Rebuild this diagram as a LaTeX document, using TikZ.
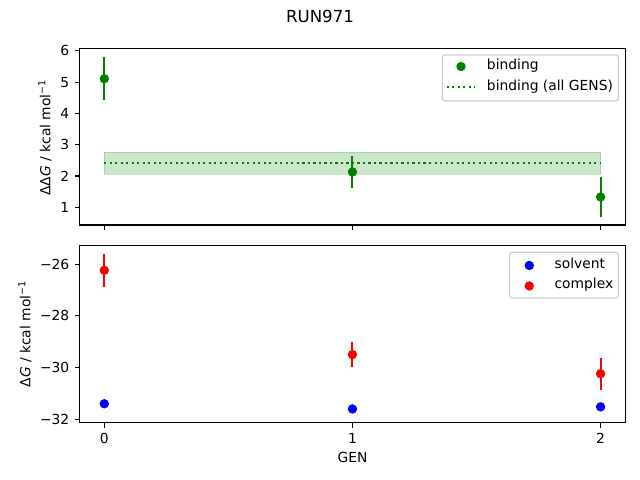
\documentclass[tikz,border=0pt]{standalone}
\usepackage{fontspec}
\setmainfont{DejaVu Sans}
\usetikzlibrary{positioning}
\definecolor{mgreen}{rgb}{0, 0.5, 0}
\definecolor{mblue}{rgb}{0, 0, 1}
\definecolor{mred}{rgb}{1, 0, 0}
\definecolor{mgray}{rgb}{0.8, 0.8, 0.8}
\tikzset{frame/.style = {line width=0.8pt},
         tick/.style = {line width=0.8pt},
         errbar/.style = {line width=1.5pt},
         dot/.style = {radius=3.4pt},
         ticklabel/.style = {font=\fontsize{10}{12}\selectfont, inner sep=0pt},
         legendbox/.style = {draw=mgray, fill=white, fill opacity=0.8,
                             rounded corners=2pt, line width=0.8pt},
         dotline/.style = {line width=1.5pt, dash pattern=on 1.5pt off 2.475pt}}

\begin{document}
\begin{tikzpicture}[x=0.01in, y=-0.01in]
    \useasboundingbox (0, 0) rectangle (640, 480);

    \node [font=\fontsize{12}{14}\selectfont] (title) at (320, 16.5) {RUN971};

    % binding panel
    \begin{scope}[shift={(104.3, 238.6)}, x=2.48in, y=0.3127in]
      \fill [mgreen, opacity=0.2] (0, 2.05) rectangle (2, 2.76);
      \draw [mgreen, opacity=0.2] (0, 2.05) rectangle (2, 2.76);
      \draw [dotline, mgreen] (0, 2.42) -- (2, 2.42);
      \foreach \gx/\gy/\ge in {0/5.11/0.69, 1/2.13/0.51, 2/1.33/0.64} {
        \draw [errbar, mgreen] (\gx, \gy-\ge) -- (\gx, \gy+\ge);
        \fill [mgreen] (\gx, \gy) circle [dot];
      }
      \draw [frame] (-0.1, 0.436) rectangle (2.1, 6.064);
      \foreach \ty in {1,...,6}
        \draw [tick] (-0.1, \ty) -- ++(-3.5pt, 0) node [left=3.5pt, ticklabel] {\ty};
      \foreach \tx in {0, 1, 2}
        \draw [tick] (\tx, 0.436) -- ++(0, -3.5pt);
    \end{scope}

    % solvent / complex panel
    \begin{scope}[shift={(104.3, -409.7)}, x=2.48in, y=0.259in]
      \foreach \gx/\gy/\ge in {0/-31.39/0.14, 1/-31.59/0.14, 2/-31.51/0.14} {
        \draw [errbar, mblue] (\gx, \gy-\ge) -- (\gx, \gy+\ge);
        \fill [mblue] (\gx, \gy) circle [dot];
      }
      \foreach \gx/\gy/\ge in {0/-26.24/0.64, 1/-29.49/0.47, 2/-30.23/0.61} {
        \draw [errbar, mred] (\gx, \gy-\ge) -- (\gx, \gy+\ge);
        \fill [mred] (\gx, \gy) circle [dot];
      }
      \draw [frame] (-0.1, -32.12) rectangle (2.1, -25.29);
      \foreach \ty in {26, 28, 30, 32}
        \draw [tick] (-0.1, -\ty) -- ++(-3.5pt, 0) node [left=3.5pt, ticklabel] {−\ty};
      \foreach \tx in {0, 1, 2}
        \draw [tick] (\tx, -32.12) -- ++(0, -3.5pt) node [below=3.5pt, ticklabel] {\tx};
    \end{scope}

    % axis labels
    \node [rotate=90, ticklabel] (ddglabel) at (45, 137.5)
      {ΔΔ{\itshape G} / kcal mol\textsuperscript{−1}};
    \node [rotate=90, ticklabel] (dglabel) at (25, 334)
      {Δ{\itshape G} / kcal mol\textsuperscript{−1}};
    \node [ticklabel] (genlabel) at (352.5, 457.7) {GEN};

    % legends
    \draw [legendbox] (442.3, 55) rectangle (618.3, 101);
    \fill [mgreen] (461, 66.5) circle [dot];
    \node [ticklabel, anchor=west] (lbind) at (486.7, 66) {binding};
    \coordinate (dotstart) at (446.7, 86.7);
    \coordinate (dotend) at (475, 86.7);
    \draw [dotline, mgreen] (dotstart) -- (dotend);
    \node [ticklabel, anchor=west] (lall) at (486.7, 86.7) {binding (all GENS)};

    \draw [legendbox] (509.3, 252.3) rectangle (618.3, 298);
    \fill [mblue] (529.3, 265.5) circle [dot];
    \node [ticklabel, anchor=west] (lsolv) at (554.3, 263.5) {solvent};
    \fill [mred] (529.3, 286) circle [dot];
    \node [ticklabel, anchor=west] (lcplx) at (554.3, 284.3) {complex};
  \end{tikzpicture}
\end{document}
